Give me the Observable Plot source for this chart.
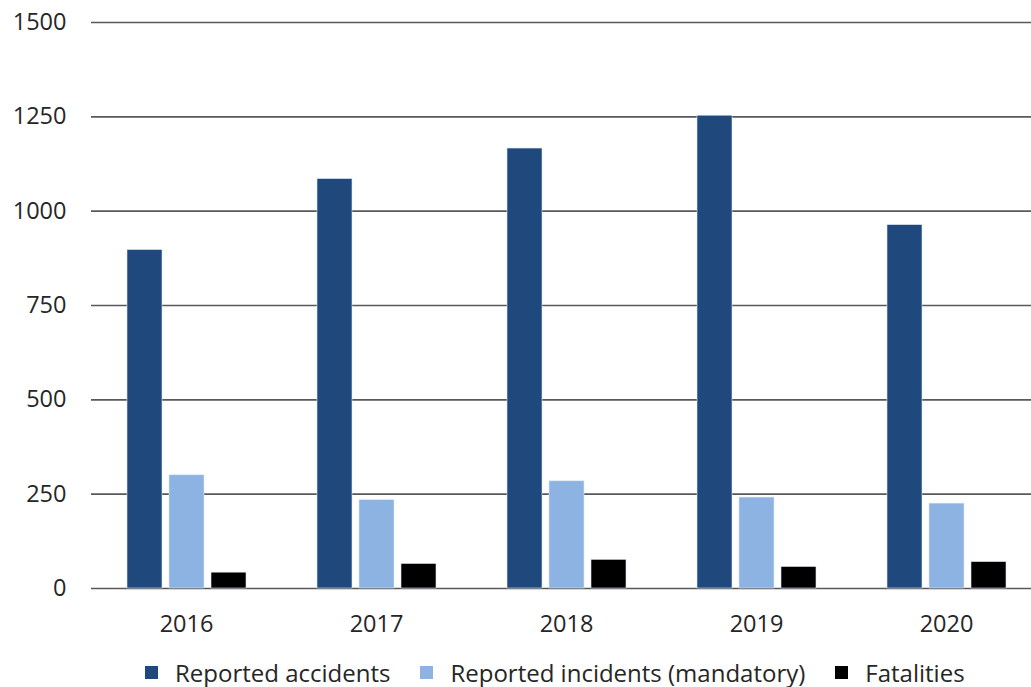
<!DOCTYPE html>
<html>
<head>
<meta charset="utf-8">
<script src="https://cdn.jsdelivr.net/npm/d3@7"></script>
<script src="https://cdn.jsdelivr.net/npm/@observablehq/plot@0.6"></script>
<style>
  html, body { margin: 0; padding: 0; background: #fff; overflow: hidden; }
  #wrap { position: relative; width: 1042px; height: 687px; font-family: "Open Sans", sans-serif; }
  #legend { position: absolute; top: 656px; left: 145px; display: flex; align-items: center; font-size: 24px; color: #262626; white-space: nowrap; }
  .item { display: flex; align-items: center; margin-right: 30px; }
  .sw { width: 13px; height: 13px; margin-right: 17px; display: inline-block; }
</style>
</head>
<body>
<div id="wrap"><div id="chart"></div><div id="legend"></div></div>
<script>
const years = ["2016", "2017", "2018", "2019", "2020"];
const series = ["Reported accidents", "Reported incidents (mandatory)", "Fatalities"];
const accidents = [897, 1085, 1166, 1253, 963];
const incidents = [300, 234, 284, 241, 225];
const fatalities = [42, 65, 76, 57, 70];
const yTicks = [0, 250, 500, 750, 1000, 1250, 1500];
const colors = ["#1f497d", "#8db3e2", "#000000"];

const seriesValues = [accidents, incidents, fatalities];
const data = years.flatMap((year, i) => series.map((s, j) => ({year, series: s, value: seriesValues[j][i]})));

const chart = Plot.plot({
  width: 1042,
  height: 650,
  marginLeft: 89,
  marginRight: 0,
  marginTop: 22,
  marginBottom: 62,
  style: {fontFamily: "Open Sans, sans-serif", fontSize: "23.5px", color: "#262626", background: "#fff"},
  fx: {domain: years, padding: 0, label: null},
  x: {domain: series, paddingInner: 0.17, paddingOuter: 0.82, axis: null},
  y: {domain: [0, 1500], label: null},
  color: {domain: series, range: colors},
  marks: [
    Plot.ruleY(yTicks, {stroke: "#595959", strokeWidth: 1.6}),
    Plot.barY(data, {fx: "year", x: "series", y: "value", fill: "series", stroke: "#dbe6f3", strokeWidth: 0.6}),
    Plot.axisY(yTicks, {tickSize: 0, tickPadding: 25, label: null, fontSize: 23.5, tickFormat: d => String(d)}),
    Plot.axisFx({anchor: "bottom", tickSize: 0, tickPadding: 27, label: null, fontSize: 23.5})
  ]
});
document.getElementById("chart").appendChild(chart);

const legend = document.getElementById("legend");
series.forEach((s, i) => {
  const item = document.createElement("div");
  item.className = "item";
  const sw = document.createElement("span");
  sw.className = "sw";
  sw.style.background = colors[i];
  item.appendChild(sw);
  item.appendChild(document.createTextNode(s));
  legend.appendChild(item);
});
</script>
</body>
</html>
